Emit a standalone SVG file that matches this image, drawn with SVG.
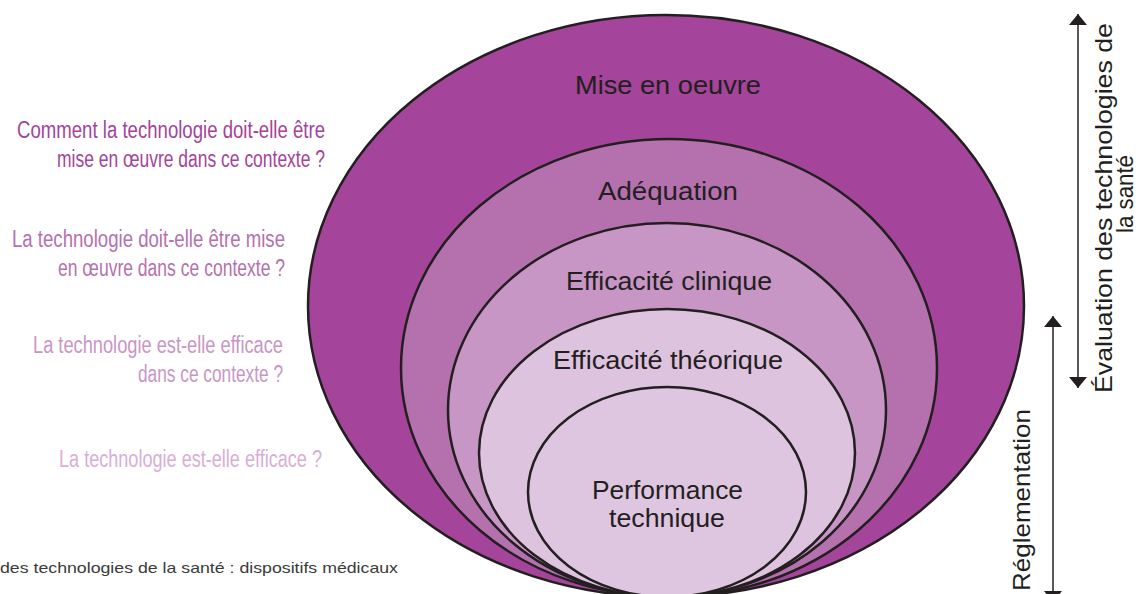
<svg xmlns="http://www.w3.org/2000/svg" width="1138" height="594" viewBox="0 0 1138 594">
<defs>
<style>
.ell{stroke:#231F20;stroke-width:2.5}
.lbl{font-family:"Liberation Sans",Arial,sans-serif;font-size:25px;fill:#231F20}
.q{font-family:"Liberation Sans",Arial,sans-serif;font-size:23px}
.side{font-family:"Liberation Sans",Arial,sans-serif;font-size:24px;fill:#231F20}
.conn{stroke:#231F20;stroke-width:1.5;fill:none;marker-start:url(#ah);marker-end:url(#ah)}
</style>
<marker id="ah" viewBox="0 -9 11 18" markerWidth="11" markerHeight="18" refX="11" refY="0" orient="auto-start-reverse" markerUnits="userSpaceOnUse">
<path d="M0,-9 L11,0 L0,9 z" fill="#231F20"/>
</marker>
</defs>
<rect width="1138" height="594" fill="#ffffff"/>

<g id="mise-en-oeuvre">
<ellipse class="ell" cx="666" cy="306" rx="358" ry="291" fill="#A4449A"/>
<text class="lbl" x="575" y="94" textLength="186" lengthAdjust="spacingAndGlyphs">Mise en oeuvre</text>
</g>
<g id="adequation">
<ellipse class="ell" cx="669" cy="368" rx="268" ry="229" fill="#B571AE"/>
<text class="lbl" x="598" y="200" textLength="140" lengthAdjust="spacingAndGlyphs">Adéquation</text>
</g>
<g id="efficacite-clinique">
<ellipse class="ell" cx="667" cy="410" rx="219" ry="187" fill="#C896C5"/>
<text class="lbl" x="566" y="290" textLength="206" lengthAdjust="spacingAndGlyphs">Efficacité clinique</text>
</g>
<g id="efficacite-theorique">
<ellipse class="ell" cx="667" cy="453" rx="188" ry="144" fill="#DEC3DF"/>
<text class="lbl" x="553" y="369" textLength="230" lengthAdjust="spacingAndGlyphs">Efficacité théorique</text>
</g>
<g id="performance-technique">
<ellipse class="ell" cx="667" cy="492" rx="139" ry="105" fill="#DFC6E0"/>
<text class="lbl" x="592" y="499" textLength="151" lengthAdjust="spacingAndGlyphs">Performance</text>
<text class="lbl" x="609" y="527" textLength="116" lengthAdjust="spacingAndGlyphs">technique</text>
</g>

<g id="questions">
<text class="q" fill="#A4449A" x="17" y="138" textLength="308" lengthAdjust="spacingAndGlyphs">Comment la technologie doit-elle être</text>
<text class="q" fill="#A4449A" x="57" y="167" textLength="268" lengthAdjust="spacingAndGlyphs">mise en œuvre dans ce contexte ?</text>
<text class="q" fill="#B571AE" x="12" y="247" textLength="273" lengthAdjust="spacingAndGlyphs">La technologie doit-elle être mise</text>
<text class="q" fill="#B571AE" x="58" y="276" textLength="227" lengthAdjust="spacingAndGlyphs">en œuvre dans ce contexte ?</text>
<text class="q" fill="#C896C5" x="33" y="353" textLength="250" lengthAdjust="spacingAndGlyphs">La technologie est-elle efficace</text>
<text class="q" fill="#C896C5" x="138" y="382" textLength="145" lengthAdjust="spacingAndGlyphs">dans ce contexte ?</text>
<text class="q" fill="#D9AED6" x="59" y="467" textLength="263" lengthAdjust="spacingAndGlyphs">La technologie est-elle efficace ?</text>
</g>

<g id="footer">
<text x="0" y="573" font-family="Liberation Sans, Arial, sans-serif" font-size="15" fill="#3a3a3a" textLength="398" lengthAdjust="spacingAndGlyphs">des technologies de la santé : dispositifs médicaux</text>
</g>

<g id="evaluation-label">
<text class="side" transform="translate(1112,208) rotate(-90)" x="-185" y="0" textLength="370" lengthAdjust="spacingAndGlyphs">Évaluation des technologies de</text>
<text class="side" transform="translate(1133,194) rotate(-90)" x="-39" y="0" textLength="78" lengthAdjust="spacingAndGlyphs">la santé</text>
</g>
<g id="reglementation-label">
<text class="side" transform="translate(1030,500) rotate(-90)" x="-91" y="0" textLength="182" lengthAdjust="spacingAndGlyphs">Réglementation</text>
</g>

<g id="connectors">
<line class="conn" x1="1078" y1="14" x2="1078" y2="388"/>
<line class="conn" x1="1053" y1="316" x2="1053" y2="602"/>
</g>
</svg>
